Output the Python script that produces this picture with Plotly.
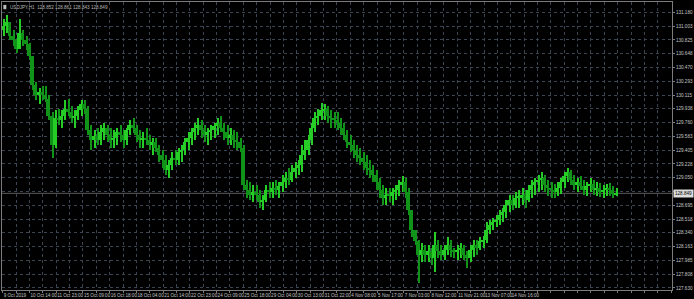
import plotly.graph_objects as go

# ---------------- data ----------------
symbol = "USDJPY,H1"
header_ohlc = ["128.852", "128.861", "128.843", "128.849"]
current_price = 128.849
bars_per_candle = 4          # each drawn candle groups 4 hourly bars
first_open = 130.95

highs = [131.10, 131.14, 131.05, 130.95, 130.84, 131.10, 130.95, 130.87, 130.79, 130.62,
         130.28, 130.20, 130.23, 130.23, 130.11, 129.89, 129.92, 129.94, 129.92, 130.05,
         130.07, 129.98, 129.92, 129.98, 130.05, 130.05, 129.98, 129.73, 129.66, 129.69,
         129.73, 129.76, 129.73, 129.69, 129.66, 129.69, 129.73, 129.66, 129.69, 129.79,
         129.82, 129.73, 129.66, 129.64, 129.69, 129.60, 129.56, 129.56, 129.47, 129.41,
         129.34, 129.28, 129.38, 129.41, 129.43, 129.47, 129.56, 129.64, 129.69, 129.76,
         129.82, 129.79, 129.73, 129.69, 129.73, 129.76, 129.82, 129.84, 129.76, 129.73,
         129.69, 129.66, 129.64, 129.56, 129.47, 129.02, 128.99, 128.96, 128.96, 128.89,
         128.83, 128.96, 128.99, 128.99, 129.02, 128.99, 129.09, 129.12, 129.17, 129.21,
         129.25, 129.28, 129.47, 129.53, 129.60, 129.76, 129.89, 129.94, 130.01, 130.00,
         129.98, 129.92, 129.89, 129.89, 129.82, 129.76, 129.66, 129.60, 129.53, 129.47,
         129.43, 129.38, 129.34, 129.28, 129.21, 129.15, 129.05, 128.96, 128.92, 128.92,
         128.92, 128.96, 129.02, 129.07, 129.05, 128.92, 128.57, 128.38, 128.25, 128.21,
         128.19, 128.19, 128.15, 128.35, 128.25, 128.19, 128.19, 128.29, 128.25, 128.15,
         128.19, 128.21, 128.19, 128.10, 128.19, 128.25, 128.25, 128.29, 128.30, 128.48,
         128.51, 128.53, 128.57, 128.64, 128.66, 128.76, 128.83, 128.83, 128.87, 128.89,
         128.92, 128.89, 128.96, 129.02, 129.05, 129.09, 129.12, 129.09, 129.02, 128.99,
         128.97, 128.99, 129.05, 129.12, 129.17, 129.15, 129.09, 129.05, 129.07, 129.02,
         128.99, 129.05, 129.02, 128.99, 128.98, 128.96, 128.97, 128.98, 128.94, 128.92]

lows = [130.88, 130.92, 130.82, 130.75, 130.65, 130.82, 130.75, 130.69, 130.56, 130.18,
        130.05, 130.00, 130.05, 130.02, 129.79, 129.30, 129.43, 129.73, 129.69, 129.79,
        129.85, 129.76, 129.69, 129.79, 129.85, 129.87, 129.60, 129.41, 129.43, 129.47,
        129.47, 129.53, 129.51, 129.43, 129.43, 129.47, 129.51, 129.43, 129.47, 129.60,
        129.62, 129.51, 129.43, 129.43, 129.47, 129.41, 129.34, 129.38, 129.25, 129.17,
        129.09, 129.05, 129.15, 129.21, 129.21, 129.25, 129.34, 129.41, 129.47, 129.53,
        129.60, 129.56, 129.51, 129.47, 129.53, 129.56, 129.60, 129.64, 129.53, 129.47,
        129.47, 129.43, 129.41, 129.38, 128.89, 128.79, 128.76, 128.74, 128.76, 128.66,
        128.64, 128.74, 128.79, 128.79, 128.83, 128.79, 128.87, 128.92, 128.96, 128.99,
        129.05, 129.09, 129.12, 129.28, 129.34, 129.47, 129.64, 129.73, 129.79, 129.79,
        129.76, 129.69, 129.69, 129.66, 129.60, 129.53, 129.43, 129.38, 129.30, 129.25,
        129.21, 129.15, 129.09, 129.05, 128.99, 128.89, 128.79, 128.70, 128.70, 128.74,
        128.70, 128.76, 128.82, 128.87, 128.79, 128.57, 128.29, 128.19, 127.69, 127.97,
        127.96, 127.97, 127.93, 127.84, 128.02, 127.99, 127.99, 128.06, 128.03, 128.02,
        127.99, 128.02, 127.99, 127.89, 127.97, 128.03, 128.06, 128.12, 128.15, 128.21,
        128.32, 128.38, 128.41, 128.44, 128.48, 128.53, 128.61, 128.64, 128.66, 128.66,
        128.70, 128.66, 128.74, 128.79, 128.83, 128.87, 128.89, 128.87, 128.82, 128.79,
        128.79, 128.82, 128.84, 128.92, 128.99, 128.96, 128.89, 128.87, 128.89, 128.83,
        128.82, 128.87, 128.83, 128.82, 128.80, 128.79, 128.82, 128.82, 128.79, 128.82]

closes = [131.01, 131.05, 130.88, 130.82, 130.71, 130.92, 130.82, 130.77, 130.62, 130.24,
          130.11, 130.15, 130.11, 130.07, 129.85, 129.47, 129.82, 129.79, 129.85, 129.94,
          129.89, 129.82, 129.85, 129.92, 130.00, 129.94, 129.66, 129.53, 129.59, 129.53,
          129.64, 129.69, 129.60, 129.53, 129.56, 129.64, 129.60, 129.53, 129.66, 129.73,
          129.69, 129.60, 129.53, 129.56, 129.53, 129.47, 129.51, 129.43, 129.34, 129.28,
          129.15, 129.21, 129.30, 129.28, 129.38, 129.41, 129.51, 129.56, 129.64, 129.69,
          129.73, 129.66, 129.60, 129.64, 129.66, 129.71, 129.76, 129.69, 129.64, 129.56,
          129.60, 129.53, 129.51, 129.43, 128.96, 128.89, 128.83, 128.87, 128.83, 128.74,
          128.76, 128.89, 128.87, 128.92, 128.89, 128.94, 128.99, 129.05, 129.02, 129.12,
          129.17, 129.21, 129.34, 129.41, 129.53, 129.69, 129.82, 129.85, 129.92, 129.94,
          129.85, 129.82, 129.79, 129.76, 129.69, 129.60, 129.51, 129.47, 129.41, 129.34,
          129.30, 129.25, 129.17, 129.15, 129.09, 128.99, 128.89, 128.79, 128.83, 128.82,
          128.87, 128.89, 128.96, 128.99, 128.87, 128.64, 128.38, 128.23, 128.06, 128.12,
          128.06, 128.10, 128.02, 128.19, 128.10, 128.06, 128.12, 128.19, 128.12, 128.10,
          128.12, 128.15, 128.06, 128.02, 128.12, 128.19, 128.15, 128.23, 128.25, 128.38,
          128.44, 128.48, 128.51, 128.57, 128.61, 128.70, 128.76, 128.70, 128.79, 128.79,
          128.83, 128.76, 128.89, 128.96, 128.99, 129.02, 129.05, 128.96, 128.92, 128.89,
          128.87, 128.92, 128.99, 129.07, 129.12, 129.02, 128.96, 128.99, 128.94, 128.89,
          128.94, 128.97, 128.89, 128.92, 128.87, 128.89, 128.92, 128.89, 128.84, 128.85]

time_labels = ["9 Oct 2019", "10 Oct 14:00", "11 Oct 23:00", "15 Oct 09:00", "16 Oct 18:00",
               "18 Oct 04:00", "21 Oct 14:00", "22 Oct 23:00", "24 Oct 09:00", "25 Oct 18:00",
               "29 Oct 04:00", "30 Oct 13:00", "31 Oct 22:00", "4 Nov 08:00", "5 Nov 17:00",
               "7 Nov 03:00", "8 Nov 12:00", "11 Nov 21:00", "13 Nov 07:00", "14 Nov 16:00"]
bars_per_label = 33

price_tick_values = [131.180, 131.003, 130.825, 130.648, 130.470, 130.293, 130.115, 129.938,
                     129.760, 129.583, 129.405, 129.228, 129.050, 128.873, 128.695, 128.518,
                     128.340, 128.163, 127.985, 127.808, 127.630]
# the 128.873 label sits under the current-price box in the reference
price_tick_labels = ["131.180", "131.003", "130.825", "130.648", "130.470", "130.293",
                     "130.115", "129.938", "129.760", "129.583", "129.405", "129.228",
                     "129.050", "", "128.695", "128.518", "128.340", "128.163",
                     "127.985", "127.808", "127.630"]

# ---------------- derived ----------------
n = len(closes)
opens = [first_open] + closes[:-1]
x_pos = [bars_per_candle * i + (bars_per_candle - 1) / 2 for i in range(n)]
hi = [max(h, o, c) for h, o, c in zip(highs, opens, closes)]
lo = [min(l, o, c) for l, o, c in zip(lows, opens, closes)]
wick_h = [h - l for h, l in zip(hi, lo)]
body_lo = [min(o, c) for o, c in zip(opens, closes)]
body_h = [max(abs(c - o), 0.012) for o, c in zip(opens, closes)]
up_col, dn_col = "#27cd27", "#11931a"
cols = [up_col if c >= o else dn_col for o, c in zip(opens, closes)]

half = bars_per_label / 2
grid_vals = [half * m for m in range(51)]
grid_text = [time_labels[m // 2] if (m % 2 == 0 and m // 2 < len(time_labels)) else ""
             for m in range(51)]

W, H = 694, 299
ml, mr, mt, mb = 1, 20, 1, 9
TXT = "#c4c4c4"
FONT = "Liberation Sans"
FS = 4.6

fig = go.Figure()
# wicks (high-low), 1px
fig.add_trace(go.Bar(
    x=x_pos, y=wick_h, base=lo, width=bars_per_candle * 0.31,
    marker=dict(color=cols, line=dict(width=0)),
    hoverinfo="skip", showlegend=False,
))
# bodies (open-close), offset half a step so they fill between wicks
fig.add_trace(go.Bar(
    x=[x - bars_per_candle * 0.5 for x in x_pos], y=body_h, base=body_lo,
    width=bars_per_candle * 0.45,
    marker=dict(color=cols, line=dict(width=0)),
    hoverinfo="skip", showlegend=False,
))

fig.add_shape(type="line", xref="paper", yref="y", x0=0, x1=1,
              y0=current_price, y1=current_price,
              line=dict(color="#5c5c5c", width=1), layer="below")

fig.add_annotation(xref="paper", yref="y", x=1, y=current_price, xanchor="left",
                   yanchor="middle", xshift=1, text="128.849", showarrow=False,
                   bgcolor="#dcdcdc", borderpad=1,
                   font=dict(family=FONT, size=FS, color="#000000"))

fig.add_annotation(xref="paper", yref="paper", x=0, y=1, xanchor="left", yanchor="top",
                   xshift=6, yshift=-1,
                   text=symbol + "  " + " ".join(header_ohlc), showarrow=False,
                   font=dict(family=FONT, size=FS, color="#b8b8b8"))
fig.add_shape(type="rect", xref="paper", yref="paper", x0=0.002, x1=0.0065,
              y0=0.975, y1=0.99, line=dict(width=0), fillcolor="#bbbbbb")

px_per_bar = 26.86 / bars_per_label
x_first_px = 1.7
x_left = (ml - x_first_px) / px_per_bar
x_right = (W - mr - x_first_px) / px_per_bar

fig.update_layout(
    width=W, height=H,
    margin=dict(l=ml, r=mr, t=mt, b=mb, pad=0),
    paper_bgcolor="#000000", plot_bgcolor="#000000",
    barmode="overlay", bargap=0,
    font=dict(family=FONT, size=FS, color=TXT),
    xaxis=dict(
        range=[x_left, x_right], tickmode="array", tickvals=grid_vals, ticktext=grid_text,
        showgrid=True, gridcolor="#3b4552", griddash="dot", gridwidth=1,
        zeroline=False, showline=True, linecolor="#7c7c7c", linewidth=1, mirror=True,
        ticks="outside", ticklen=2, tickcolor="#7c7c7c",
        ticklabelposition="outside right", tickangle=0,
        tickfont=dict(family=FONT, size=FS, color=TXT),
    ),
    yaxis=dict(
        range=[127.604, 131.313], side="right", tickmode="array",
        tickvals=price_tick_values, ticktext=price_tick_labels,
        showgrid=True, gridcolor="#3b4552", griddash="dot", gridwidth=1,
        zeroline=False, showline=True, linecolor="#7c7c7c", linewidth=1, mirror=True,
        ticks="outside", ticklen=2, tickcolor="#7c7c7c",
        tickfont=dict(family=FONT, size=FS, color=TXT),
    ),
)

fig.write_html("out.html")
